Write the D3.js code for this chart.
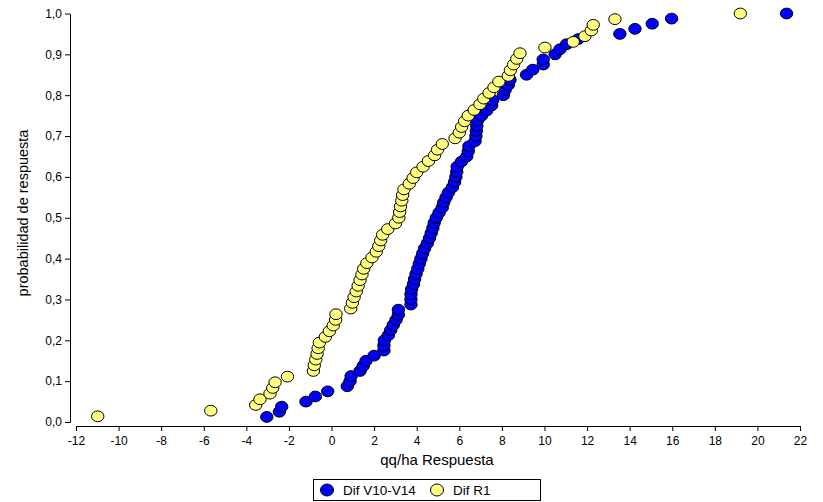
<!DOCTYPE html>
<html>
<head>
<meta charset="utf-8">
<script src="https://cdn.jsdelivr.net/npm/d3@7"></script>
<style>
  html, body { margin: 0; padding: 0; background: #fff; }
  svg { display: block; font-family: Arial, "Liberation Sans", sans-serif; }
</style>
</head>
<body>
<svg id="chart" width="823" height="502"></svg>
<script>
// Sorted response differences (qq/ha) for each treatment
const difV10V14 = [
  -3.04, -2.45, -2.34, -1.2, -0.76, -0.18, 0.74, 0.87, 0.92, 1.34,
  1.49, 1.62, 2.0, 2.46, 2.46, 2.48, 2.67, 2.78, 2.9, 3.03,
  3.14, 3.14, 3.73, 3.73, 3.73, 3.76, 3.85, 3.9, 3.97, 4.05,
  4.12, 4.2, 4.28, 4.37, 4.5, 4.6, 4.68, 4.76, 4.82, 4.92,
  5.05, 5.2, 5.27, 5.38, 5.5, 5.68, 5.78, 5.84, 5.88, 5.9,
  6.1, 6.35, 6.42, 6.45, 6.74, 6.78, 6.8, 6.82, 6.85, 7.05,
  7.29, 7.52, 7.57, 8.07, 8.15, 8.3, 8.38, 9.16, 9.45, 9.94,
  9.94, 10.5, 10.73, 11.04, 11.59, 13.54, 14.25, 15.06, 15.97, 21.37
];
const difR1 = [
  -10.98, -5.67, -3.56, -3.36, -2.89, -2.76, -2.65, -2.07, -0.85, -0.81,
  -0.74, -0.68, -0.63, -0.57, -0.29, -0.1, 0.08, 0.19, 0.21, 0.9,
  0.98, 1.06, 1.16, 1.25, 1.34, 1.43, 1.51, 1.66, 1.9, 2.1,
  2.22, 2.31, 2.4, 2.64, 3.0, 3.16, 3.2, 3.24, 3.3, 3.34,
  3.4, 3.65, 3.83, 4.0, 4.3, 4.55, 4.84, 4.98, 5.2, 5.8,
  6.0, 6.11, 6.25, 6.42, 6.7, 6.97, 7.15, 7.4, 7.63, 7.86,
  8.3, 8.4, 8.55, 8.7, 8.85, 10.02, 11.35, 11.9, 12.2, 12.29,
  13.31, 19.2
];
const seriesNames = ["Dif V10-V14", "Dif R1"];
const seriesColors = ["#0000ff", "#ffff80"];
const xTicks = [-12, -10, -8, -6, -4, -2, 0, 2, 4, 6, 8, 10, 12, 14, 16, 18, 20, 22];
const yTicks = [0, 0.1, 0.2, 0.3, 0.4, 0.5, 0.6, 0.7, 0.8, 0.9, 1.0];

// Cumulative response probability: i / n for the i-th sorted value
const toPoints = vals => vals.map((v, i) => ({ x: v, p: (i + 1) / vals.length }));
const series = [toPoints(difV10V14), toPoints(difR1)];

const svg = d3.select("#chart");
const x = d3.scaleLinear().domain([-12, 22]).range([76, 800]);
const y = d3.scaleLinear().domain([0, 1]).range([422, 13.5]);

// Y axis
const yAxis = svg.append("g")
  .attr("transform", "translate(70,0)")
  .call(d3.axisLeft(y).tickValues(yTicks).tickSize(5).tickSizeOuter(0).tickPadding(3)
    .tickFormat(d => d.toFixed(1).replace(".", ",")));
// X axis
const xAxis = svg.append("g")
  .attr("transform", "translate(0,426)")
  .call(d3.axisBottom(x).tickValues(xTicks).tickSize(5).tickSizeOuter(0).tickPadding(5)
    .tickFormat(d => String(d)));
[yAxis, xAxis].forEach(g => {
  g.selectAll("path, line").attr("stroke", "#000").attr("stroke-width", 1);
  g.selectAll("text").attr("fill", "#000").style("font-size", "12px")
    .style("font-family", "Arial, 'Liberation Sans', sans-serif");
});

// Axis titles
svg.append("text")
  .attr("x", 437).attr("y", 465)
  .attr("text-anchor", "middle")
  .style("font-size", "15px")
  .text("qq/ha Respuesta");
svg.append("text")
  .attr("transform", "translate(28,213) rotate(-90)")
  .attr("text-anchor", "middle")
  .style("font-size", "14.5px")
  .text("probabilidad de respuesta");

// Scatter markers
series.forEach((pts, k) => {
  svg.append("g").selectAll("ellipse")
    .data(pts)
    .join("ellipse")
    .attr("cx", d => x(d.x))
    .attr("cy", d => y(d.p))
    .attr("rx", 6.2)
    .attr("ry", 5.4)
    .attr("fill", seriesColors[k])
    .attr("stroke", "#000")
    .attr("stroke-width", 1);
});

// Legend
const legend = svg.append("g");
legend.append("rect")
  .attr("x", 313.5).attr("y", 479.5).attr("width", 227).attr("height", 21)
  .attr("fill", "#fff").attr("stroke", "#000").attr("stroke-width", 1);
const legendX = [327, 437];
seriesNames.forEach((name, k) => {
  legend.append("ellipse")
    .attr("cx", legendX[k]).attr("cy", 490)
    .attr("rx", 6.5).attr("ry", 6)
    .attr("fill", seriesColors[k]).attr("stroke", "#000");
  legend.append("text")
    .attr("x", legendX[k] + 16).attr("y", 495)
    .style("font-size", "13.5px")
    .text(name);
});
</script>
</body>
</html>
